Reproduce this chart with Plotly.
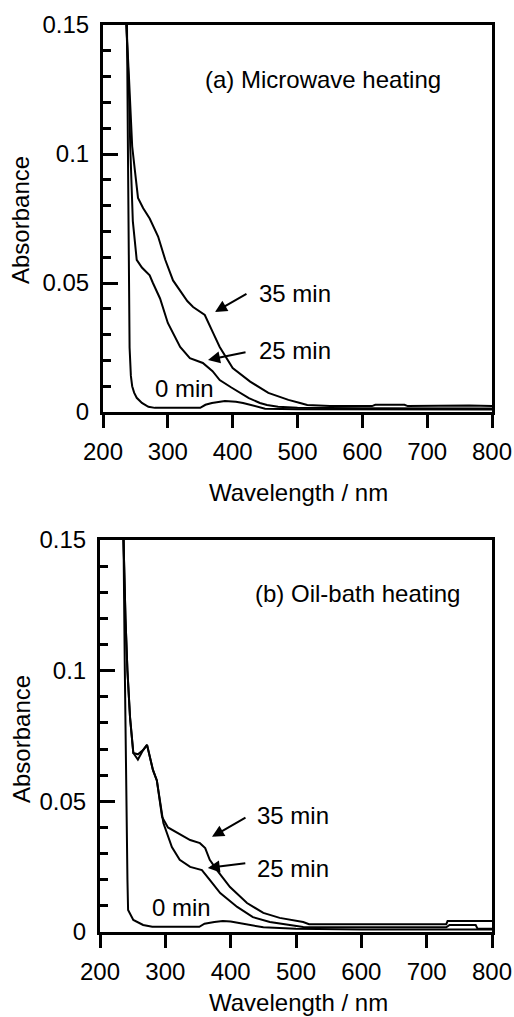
import plotly.graph_objects as go

# (a) microwave heating
wl_a_0 = [232, 237, 238.5, 239.5, 241, 243, 245, 248, 252, 260, 270, 280, 350, 358, 368, 388, 405, 416, 437, 450, 500, 600, 700, 800]
abs_a_0 = [0.16, 0.15, 0.10, 0.05, 0.025, 0.014, 0.010, 0.0075, 0.0055, 0.0035, 0.002, 0.0016, 0.0016, 0.0028, 0.0035, 0.0043, 0.004, 0.0035, 0.0023, 0.0013, 0.0011, 0.0010, 0.0010, 0.0010]

wl_a_25 = [232, 236, 240, 242, 246, 252, 260, 272, 277, 288, 300, 319, 334, 354, 369, 380, 398, 425, 442, 453, 470, 500, 600, 720, 765, 800]
abs_a_25 = [0.16, 0.15, 0.125, 0.103, 0.074, 0.059, 0.056, 0.053, 0.050, 0.044, 0.0345, 0.0252, 0.0209, 0.019, 0.0158, 0.0124, 0.0095, 0.0054, 0.0035, 0.0027, 0.0020, 0.0016, 0.0015, 0.0014, 0.0014, 0.0014]

wl_a_35 = [232, 236, 240, 245, 249, 254, 262, 272, 285, 296, 308, 330, 339, 357, 370, 380, 400, 427, 455, 486, 504, 515, 550, 615, 620, 665, 670, 720, 765, 800]
abs_a_35 = [0.16, 0.15, 0.13, 0.103, 0.094, 0.083, 0.079, 0.075, 0.068, 0.059, 0.051, 0.043, 0.0407, 0.0376, 0.0306, 0.0252, 0.017, 0.0118, 0.0074, 0.0047, 0.0035, 0.0027, 0.0023, 0.0023, 0.0028, 0.0028, 0.0023, 0.0025, 0.0025, 0.0023]

# (b) oil-bath heating
wl_b_0 = [232, 236, 238, 240, 242, 243, 251, 266, 280, 352, 360, 375, 388, 400, 414, 433, 450, 500, 600, 800]
abs_b_0 = [0.16, 0.15, 0.10, 0.05, 0.02, 0.0084, 0.0046, 0.0027, 0.002, 0.002, 0.0032, 0.0038, 0.0042, 0.004, 0.0034, 0.0027, 0.0018, 0.0012, 0.001, 0.001]

wl_b_25 = [232, 236, 239, 242, 246, 249, 251, 258, 266, 272, 276, 281, 287, 297, 310, 322, 338, 356, 368, 384, 410, 434, 460, 491, 511, 600, 730, 735, 775, 778, 800]
abs_b_25 = [0.16, 0.15, 0.12, 0.10, 0.082, 0.072, 0.0685, 0.066, 0.0696, 0.0716, 0.067, 0.062, 0.058, 0.0417, 0.0325, 0.0276, 0.0249, 0.0237, 0.0199, 0.0149, 0.0096, 0.0057, 0.0038, 0.0027, 0.0019, 0.0018, 0.0018, 0.0027, 0.0027, 0.0012, 0.0012]

wl_b_35 = [232, 236, 239, 242, 246, 249, 251, 258, 266, 272, 276, 281, 287, 295, 304, 319, 338, 353, 361, 368, 379, 399, 425, 450, 475, 511, 520, 730, 732, 800]
abs_b_35 = [0.16, 0.15, 0.12, 0.10, 0.082, 0.072, 0.0685, 0.068, 0.0696, 0.0716, 0.067, 0.062, 0.058, 0.044, 0.040, 0.038, 0.0352, 0.034, 0.0321, 0.0276, 0.0237, 0.0172, 0.0111, 0.0073, 0.0054, 0.0038, 0.003, 0.003, 0.0042, 0.0042]

W, H = 514, 1017
FONT = "Liberation Sans, Arial, sans-serif"
# panel boxes in pixels: left, right, top, bottom
box_a = (103, 492, 25, 412)
box_b = (100, 492, 540, 932)

def fx(box, x):
    return (x - box[0]) / (box[1] - box[0])

def fy(box, y):
    return (box[3] - y) / (box[3] - box[2])

fig = go.Figure()
for wl, ab in [(wl_a_0, abs_a_0), (wl_a_25, abs_a_25), (wl_a_35, abs_a_35)]:
    fig.add_trace(go.Scatter(x=wl, y=ab, mode="lines", line=dict(color="black", width=2), xaxis="x", yaxis="y", showlegend=False))
for wl, ab in [(wl_b_0, abs_b_0), (wl_b_25, abs_b_25), (wl_b_35, abs_b_35)]:
    fig.add_trace(go.Scatter(x=wl, y=ab, mode="lines", line=dict(color="black", width=2), xaxis="x2", yaxis="y2", showlegend=False))

xax = dict(range=[200, 800], tickvals=[200, 300, 400, 500, 600, 700, 800], ticks="outside", ticklen=13, tickwidth=3,
           tickcolor="black", showline=True, linewidth=3, linecolor="black", mirror=True, showgrid=False, zeroline=False,
           tickfont=dict(family=FONT, size=24, color="black"), ticklabelstandoff=3, automargin=False)
yax = dict(range=[0, 0.15], tickvals=[0, 0.05, 0.1, 0.15], ticktext=["0", "0.05", "0.1", "0.15"], ticks="inside",
           ticklen=15, tickwidth=3, tickcolor="black", showline=True, linewidth=3, linecolor="black", mirror=True,
           showgrid=False, zeroline=False, tickfont=dict(family=FONT, size=24, color="black"), ticklabelstandoff=6,
           automargin=False,
           minor=dict(dtick=0.01, ticks="inside", ticklen=8, tickwidth=3, tickcolor="black", showgrid=False))

fig.update_layout(
    template="none",
    width=W, height=H, margin=dict(l=0, r=0, t=0, b=0, autoexpand=False),
    paper_bgcolor="white", plot_bgcolor="white",
    xaxis=dict(xax, domain=[box_a[0] / W, box_a[1] / W], anchor="y"),
    yaxis=dict(yax, domain=[1 - box_a[3] / H, 1 - box_a[2] / H], anchor="x"),
    xaxis2=dict(xax, domain=[box_b[0] / W, box_b[1] / W], anchor="y2"),
    yaxis2=dict(yax, domain=[1 - box_b[3] / H, 1 - box_b[2] / H], anchor="x2"),
)

txt = dict(family=FONT, size=24, color="black")
panels = [("x", "y", box_a), ("x2", "y2", box_b)]
notes = [
    [("(a) Microwave heating", 203, 80, "left", 0), ("35 min", 257, 293, "left", 0), ("25 min", 257, 350, "left", 0),
     ("0 min", 153, 388, "left", 0), ("Wavelength / nm", 298, 492, "center", 0), ("Absorbance", 20, 220, "center", -90)],
    [("(b) Oil-bath heating", 253, 593, "left", 0), ("35 min", 255, 815, "left", 0), ("25 min", 255, 868, "left", 0),
     ("0 min", 150, 907, "left", 0), ("Wavelength / nm", 298, 1002, "center", 0), ("Absorbance", 21, 739, "center", -90)],
]
for (xr, yr, box), items in zip(panels, notes):
    for t, x, y, anc, ang in items:
        fig.add_annotation(text=t, x=fx(box, x), y=fy(box, y), xref=xr + " domain", yref=yr + " domain",
                           xanchor=anc, yanchor="middle", showarrow=False, font=txt, textangle=ang)

# arrows: head in data units, tail as pixel offset
arrows = [("x", "y", 372.7, 0.0388, 33, -19), ("x", "y", 362, 0.0202, 39, -8),
          ("x2", "y2", 371.4, 0.0364, 35, -20), ("x2", "y2", 365, 0.0245, 39, -5)]
for xr, yr, hx, hy, ax, ay in arrows:
    fig.add_annotation(text="", x=hx, y=hy, xref=xr, yref=yr, ax=ax, ay=ay, showarrow=True,
                       arrowhead=2, arrowsize=1.2, arrowwidth=2, arrowcolor="black")

# page has a default body margin; drop it so the figure sits at 0,0
fig.write_html("out.html", config={"displayModeBar": False},
               post_script="document.body.style.margin='0';document.body.style.overflow='hidden';")
